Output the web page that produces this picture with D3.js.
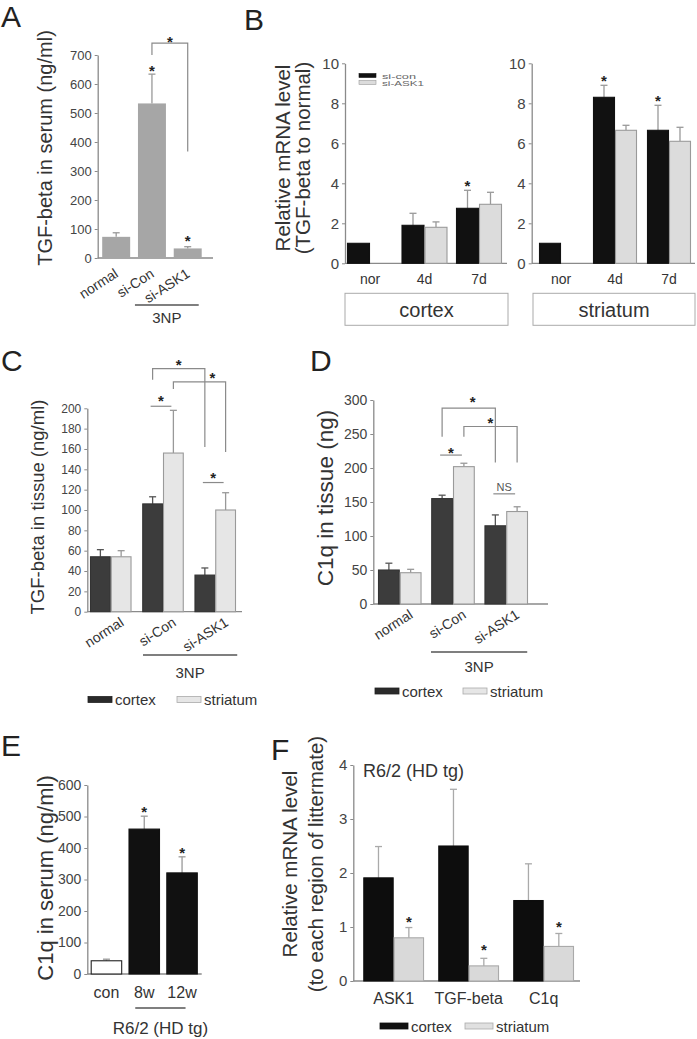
<!DOCTYPE html>
<html><head><meta charset="utf-8">
<script src="https://cdn.jsdelivr.net/npm/d3@7"></script>
<style>
body{margin:0;background:#fff}
svg{display:block}
text{font-family:"Liberation Sans",Arial,Helvetica,sans-serif}
</style>
</head><body>
<svg id="fig" width="697" height="1039"></svg>
<script>
// ---------------- DATA ----------------
// Panel A: TGF-beta in serum
const aCategories = ["normal", "si-Con", "si-ASK1"];
const aValues = [73, 533, 33];
const aErrTop = [87, 634, 39];
const aTicks = [0, 100, 200, 300, 400, 500, 600, 700];

// Panel B: relative mRNA level (series si-con / si-ASK1)
const bCategories = ["nor", "4d", "7d"];
const bSeriesNames = ["si-con", "si-ASK1"];
const bCortexSiCon = [1.0, 1.9, 2.75];
const bCortexSiConErr = [null, 2.5, 3.65];
const bCortexSiASK1 = [null, 1.8, 2.95];
const bCortexSiASK1Err = [null, 2.07, 3.55];
const bStriatumSiCon = [1.0, 8.3, 6.65];
const bStriatumSiConErr = [null, 8.9, 7.9];
const bStriatumSiASK1 = [null, 6.65, 6.1];
const bStriatumSiASK1Err = [null, 6.9, 6.8];
const bTicks = [0, 2, 4, 6, 8, 10];

// Panel C: TGF-beta in tissue
const cCategories = ["normal", "si-Con", "si-ASK1"];
const cCortex = [54, 106, 36];
const cCortexErr = [61, 113, 43];
const cStriatum = [54, 156, 100];
const cStriatumErr = [60, 198, 117];
const cTicks = [0, 20, 40, 60, 80, 100, 120, 140, 160, 180, 200];

// Panel D: C1q in tissue
const dCategories = ["normal", "si-Con", "si-ASK1"];
const dCortex = [50, 155, 115];
const dCortexErr = [60, 160, 131];
const dStriatum = [46, 202, 136];
const dStriatumErr = [51, 207, 143];
const dTicks = [0, 50, 100, 150, 200, 250, 300];

// Panel E: C1q in serum
const eCategories = ["con", "8w", "12w"];
const eValues = [42, 460, 321];
const eErrTop = [47, 501, 372];
const eTicks = [0, 100, 200, 300, 400, 500, 600];

// Panel F: relative mRNA level R6/2
const fCategories = ["ASK1", "TGF-beta", "C1q"];
const fCortex = [1.91, 2.5, 1.49];
const fCortexErr = [2.49, 3.55, 2.17];
const fStriatum = [0.8, 0.28, 0.64];
const fStriatumErr = [0.99, 0.42, 0.88];
const fTicks = [0, 1, 2, 3, 4];

const legendLabels = ["cortex", "striatum"];

// ---------------- DRAWING ----------------
const svg = d3.select("#fig");
const AXIS = "#8a8a8a", TXT = "#333", TICKTXT = "#444";

function letter(t, x, y) {
  svg.append("text").attr("x", x).attr("y", y).attr("font-size", 30)
    .attr("fill", "#222").text(t);
}
function yTitle(lines, xs, cy, fs) {
  lines.forEach((l, i) => {
    svg.append("text").attr("transform", `translate(${xs[i]},${cy}) rotate(-90)`)
      .attr("text-anchor", "middle").attr("dominant-baseline", "central")
      .attr("font-size", fs).attr("fill", TXT).text(l);
  });
}
function star(x, yc, fs = 15) {
  svg.append("text").attr("x", x).attr("y", yc + 0.6 * fs).attr("text-anchor", "middle")
    .attr("font-size", fs).attr("font-weight", "bold").attr("fill", "#222").text("*");
}

function panel(o) {
  const g = svg.append("g");
  const y = d3.scaleLinear().domain([0, o.max]).range([o.yBottom, o.yTop]);
  const x = d3.scaleBand().domain(o.categories).range(o.band).paddingInner(o.pad).paddingOuter(0);
  const ns = o.series.length;
  const sub = d3.scaleBand().domain(d3.range(ns)).range([0, x.bandwidth()]).padding(0);

  // y axis
  const ax = g.append("g").attr("transform", `translate(${o.axisX},0)`)
    .call(d3.axisLeft(y).tickValues(o.ticks).tickFormat(d3.format("~g"))
      .tickSize(3).tickSizeOuter(0).tickPadding(3));
  ax.select(".domain").attr("stroke", AXIS).attr("stroke-width", 1.3);
  ax.selectAll(".tick line").attr("stroke", AXIS);
  ax.selectAll(".tick text").attr("font-size", o.tickFs).attr("fill", TICKTXT)
    .attr("font-family", '"Liberation Sans",Arial,sans-serif');
  // x axis line
  g.append("line").attr("x1", o.axisX).attr("x2", o.xEnd).attr("y1", o.yBottom).attr("y2", o.yBottom)
    .attr("stroke", AXIS).attr("stroke-width", 1.3);

  // bars
  o.series.forEach((s, si) => {
    o.categories.forEach((c, ci) => {
      const v = s.values[ci];
      if (v == null) return;
      const bx = x(c) + sub(si), bw = sub.bandwidth();
      const cx = bx + bw / 2;
      const e = s.err ? s.err[ci] : null;
      if (e != null) {
        g.append("line").attr("x1", cx).attr("x2", cx).attr("y1", y(v)).attr("y2", y(e))
          .attr("stroke", s.errColor).attr("stroke-width", 1.3);
        g.append("line").attr("x1", cx - 3.5).attr("x2", cx + 3.5).attr("y1", y(e)).attr("y2", y(e))
          .attr("stroke", s.errColor).attr("stroke-width", 1.3);
      }
      const fill = (s.fills && s.fills[ci]) || s.fill;
      const stroke = (s.strokes && s.strokes[ci]) || s.stroke || "none";
      g.append("rect").attr("x", bx + 0.5).attr("y", y(v)).attr("width", bw - 1)
        .attr("height", y(0) - y(v)).attr("fill", fill)
        .attr("stroke", stroke).attr("stroke-width", 1.1);
    });
  });

  const center = (c, si) => x(c) + sub(si) + sub.bandwidth() / 2;
  const gcenter = c => x(c) + x.bandwidth() / 2;

  // x labels
  if (o.rotLabels) {
    o.categories.forEach(c => {
      const lx = gcenter(c) + o.rotLabels.dx, ly = o.yBottom + o.rotLabels.dy;
      g.append("text").attr("transform", `translate(${lx},${ly}) rotate(${o.rotLabels.angle})`)
        .attr("text-anchor", "end").attr("font-size", o.rotLabels.fs).attr("fill", TXT).text(c);
    });
  } else if (o.labels) {
    o.categories.forEach(c => {
      g.append("text").attr("x", gcenter(c) + (o.labels.dx || 0)).attr("y", o.yBottom + o.labels.dy)
        .attr("text-anchor", "middle").attr("font-size", o.labels.fs).attr("fill", TXT).text(c);
    });
  }

  // stars
  (o.stars || []).forEach(s => star(center(s.cat, s.series), y(s.v), o.starFs || 15));

  // brackets
  (o.brackets || []).forEach(b => {
    const x1 = center(b.from[0], b.from[1]), x2 = center(b.to[0], b.to[1]);
    g.append("path").attr("d", `M${x1},${y(b.leftBottom)}V${y(b.top)}H${x2}V${y(b.rightBottom)}`)
      .attr("fill", "none").attr("stroke", AXIS).attr("stroke-width", 1.2);
    star((x1 + x2) / 2 + (b.starDx || 0), y(b.starV), o.starFs || 15);
  });
  // short lines
  (o.shortLines || []).forEach(b => {
    const x1 = center(b.cat, 0) - 2, x2 = center(b.cat, 1) - 2;
    g.append("line").attr("x1", x1).attr("x2", x2).attr("y1", y(b.v)).attr("y2", y(b.v))
      .attr("stroke", AXIS).attr("stroke-width", 1.2);
    if (b.label === "*") star((x1 + x2) / 2, y(b.labelV), o.starFs || 15);
    else g.append("text").attr("x", (x1 + x2) / 2).attr("y", y(b.labelV) + 4).attr("text-anchor", "middle")
      .attr("font-size", 11).attr("fill", "#555").text(b.label);
  });

  // group underline + label
  if (o.group) {
    const gx1 = gcenter(o.categories[o.group.from]) - o.group.pad;
    const gx2 = gcenter(o.categories[o.group.to]) + o.group.pad2;
    g.append("line").attr("x1", gx1).attr("x2", gx2).attr("y1", o.group.y).attr("y2", o.group.y)
      .attr("stroke", "#555").attr("stroke-width", 1.4);
    g.append("text").attr("x", (gx1 + gx2) / 2).attr("y", o.group.ty).attr("text-anchor", "middle")
      .attr("font-size", o.group.fs).attr("fill", TXT).text(o.group.text);
  }
  return { x, y, center };
}

function legend(x0, y0, gap, fs, fills, strokes, labels, rw = 24, rh = 6) {
  labels.forEach((l, i) => {
    const xx = x0 + i * gap;
    svg.append("rect").attr("x", xx).attr("y", y0 - rh / 2).attr("width", rw).attr("height", rh)
      .attr("fill", fills[i]).attr("stroke", strokes[i]).attr("stroke-width", 0.8);
    svg.append("text").attr("x", xx + rw + 3).attr("y", y0).attr("dominant-baseline", "central")
      .attr("font-size", fs).attr("fill", TXT).text(l);
  });
}

// ---- Panel A ----
letter("A", 1, 27);
yTitle(["TGF-beta in serum (ng/ml)"], [45], 148, 20);
panel({
  categories: aCategories, max: 700, ticks: aTicks, tickFs: 13,
  axisX: 97.7, yBottom: 258, yTop: 55, band: [101.7, 202.2], pad: 0.19, xEnd: 213,
  series: [{ values: aValues, err: aErrTop, fill: "#a6a6a6", errColor: "#999" }],
  rotLabels: { dx: 3, dy: 18, angle: -33, fs: 14 },
  stars: [{ cat: "si-Con", series: 0, v: 660 }, { cat: "si-ASK1", series: 0, v: 72 }],
  brackets: [{ from: ["si-Con", 0], to: ["si-ASK1", 0], top: 741, leftBottom: 700, rightBottom: 367, starV: 757 }],
  group: { from: 1, to: 2, pad: 17, pad2: 11, y: 305, ty: 323, fs: 15, text: "3NP" }
});

// ---- Panel B ----
letter("B", 244, 30);
yTitle(["Relative mRNA level", "(TGF-beta to normal)"], [282, 302], 158, 20.5);
panel({
  categories: bCategories, max: 10, ticks: bTicks, tickFs: 15,
  axisX: 345, yBottom: 263.3, yTop: 63.3, band: [347, 502], pad: 0.156, xEnd: 507,
  series: [
    { values: bCortexSiCon, err: bCortexSiConErr, fill: "#111", stroke: "#111", errColor: "#999" },
    { values: bCortexSiASK1, err: bCortexSiASK1Err, fill: "#dcdcdc", stroke: "#9a9a9a", errColor: "#999" }
  ],
  labels: { dy: 21, fs: 14 },
  stars: [{ cat: "7d", series: 0, v: 4.08 }]
});
panel({
  categories: bCategories, max: 10, ticks: bTicks, tickFs: 15,
  axisX: 531.7, yBottom: 263.3, yTop: 63.3, band: [539, 691], pad: 0.185, xEnd: 695,
  series: [
    { values: bStriatumSiCon, err: bStriatumSiConErr, fill: "#111", stroke: "#111", errColor: "#999" },
    { values: bStriatumSiASK1, err: bStriatumSiASK1Err, fill: "#dcdcdc", stroke: "#9a9a9a", errColor: "#999" }
  ],
  labels: { dy: 21, fs: 14 },
  stars: [{ cat: "4d", series: 0, v: 9.3 }, { cat: "7d", series: 0, v: 8.3 }]
});
// B legend
[["#111", "#111"], ["#dcdcdc", "#999"]].forEach((c, i) => {
  svg.append("rect").attr("x", 359).attr("y", 73.5 + i * 7).attr("width", 17).attr("height", 4)
    .attr("fill", c[0]).attr("stroke", c[1]).attr("stroke-width", 0.6);
  svg.append("text").attr("x", 382).attr("y", 78.5 + i * 7).attr("font-size", 8)
    .attr("textLength", i === 0 ? 34 : 42).attr("lengthAdjust", "spacingAndGlyphs")
    .attr("fill", "#666").text(bSeriesNames[i]);
});
// region boxes
[[345, 508, "cortex"], [533, 695, "striatum"]].forEach(b => {
  svg.append("rect").attr("x", b[0]).attr("y", 293.3).attr("width", b[1] - b[0]).attr("height", 32)
    .attr("fill", "none").attr("stroke", "#aaa").attr("stroke-width", 1);
  svg.append("text").attr("x", (b[0] + b[1]) / 2).attr("y", 316.5).attr("text-anchor", "middle")
    .attr("font-size", 20).attr("fill", TXT).text(b[2]);
});

// ---- Panel C ----
letter("C", 1, 371);
yTitle(["TGF-beta in tissue (ng/ml)"], [37], 507, 18.5);
panel({
  categories: cCategories, max: 200, ticks: cTicks, tickFs: 12,
  axisX: 87.3, yBottom: 611.7, yTop: 408.3, band: [90, 236], pad: 0.205, xEnd: 242,
  series: [
    { values: cCortex, err: cCortexErr, fill: "#3c3c3c", stroke: "#333", errColor: "#555" },
    { values: cStriatum, err: cStriatumErr, fill: "#e6e6e6", stroke: "#9a9a9a", errColor: "#999" }
  ],
  rotLabels: { dx: 14, dy: 13, angle: -33, fs: 14 },
  shortLines: [{ cat: "si-Con", v: 202, label: "*", labelV: 211 }, { cat: "si-ASK1", v: 127, label: "*", labelV: 135.5 }],
  brackets: [
    { from: ["si-Con", 0], to: ["si-ASK1", 0], top: 239, leftBottom: 228, rightBottom: 162, starV: 246.5 },
    { from: ["si-Con", 1], to: ["si-ASK1", 1], top: 226, leftBottom: 219, rightBottom: 157, starV: 233.5, starDx: 13 }
  ],
  group: { from: 1, to: 2, pad: 20, pad2: 22, y: 655, ty: 678, fs: 15, text: "3NP" }
});
legend(88, 699.5, 89, 15, ["#2a2a2a", "#e6e6e6"], ["#222", "#aaa"], legendLabels);

// ---- Panel D ----
letter("D", 310, 371);
yTitle(["C1q in tissue (ng)"], [325], 498, 22.5);
panel({
  categories: dCategories, max: 300, ticks: dTicks, tickFs: 14,
  axisX: 373.3, yBottom: 604, yTop: 400, band: [378, 528], pad: 0.182, xEnd: 548,
  series: [
    { values: dCortex, err: dCortexErr, fill: "#3c3c3c", stroke: "#333", errColor: "#555" },
    { values: dStriatum, err: dStriatumErr, fill: "#e6e6e6", stroke: "#9a9a9a", errColor: "#999" }
  ],
  rotLabels: { dx: 14, dy: 13, angle: -33, fs: 14 },
  shortLines: [{ cat: "si-Con", v: 219, label: "*", labelV: 228 }, { cat: "si-ASK1", v: 162, label: "NS", labelV: 172.5 }],
  brackets: [
    { from: ["si-Con", 0], to: ["si-ASK1", 0], top: 288, leftBottom: 246, rightBottom: 208, starV: 303, starDx: 4 },
    { from: ["si-Con", 1], to: ["si-ASK1", 1], top: 261, leftBottom: 246, rightBottom: 208, starV: 272 }
  ],
  group: { from: 1, to: 2, pad: 22, pad2: 21, y: 652, ty: 672, fs: 15, text: "3NP" }
});
legend(375, 691, 88, 15, ["#2a2a2a", "#e6e6e6"], ["#222", "#aaa"], legendLabels);

// ---- Panel E ----
letter("E", 1, 756);
yTitle(["C1q in serum (ng/ml)"], [45], 878, 22);
panel({
  categories: eCategories, max: 600, ticks: eTicks, tickFs: 14,
  axisX: 87.3, yBottom: 974, yTop: 785, band: [90.7, 197.8], pad: 0.167, xEnd: 201.7,
  series: [{ values: eValues, err: eErrTop, fill: "#111", stroke: "#111", errColor: "#999",
             fills: ["#fff", null, null], strokes: ["#222", null, null] }],
  labels: { dy: 24, fs: 16 },
  stars: [{ cat: "8w", series: 0, v: 527 }, { cat: "12w", series: 0, v: 397 }],
  group: { from: 1, to: 2, pad: 9, pad2: 3.5, y: 1008, ty: 1034, fs: 17, text: "R6/2 (HD tg)" }
});

// ---- Panel F ----
letter("F", 271, 760);
yTitle(["Relative mRNA level", "(to each region of littermate)"], [289, 315], 864, 20.5);
panel({
  categories: fCategories, max: 4, ticks: fTicks, tickFs: 15,
  axisX: 353.3, yBottom: 981, yTop: 765, band: [363.3, 574], pad: 0.19, xEnd: 580,
  series: [
    { values: fCortex, err: fCortexErr, fill: "#0d0d0d", stroke: "#0d0d0d", errColor: "#aaa" },
    { values: fStriatum, err: fStriatumErr, fill: "#d9d9d9", stroke: "#aaa", errColor: "#aaa" }
  ],
  labels: { dy: 23, fs: 16 },
  stars: [{ cat: "ASK1", series: 1, v: 1.17 }, { cat: "TGF-beta", series: 1, v: 0.64 }, { cat: "C1q", series: 1, v: 1.08 }]
});
svg.append("text").attr("x", 363).attr("y", 776.5).attr("font-size", 18).attr("fill", TXT).text("R6/2 (HD tg)");
legend(380, 1026, 85, 15, ["#111", "#e0e0e0"], ["#111", "#aaa"], legendLabels, 28, 6);
</script>
</body></html>
